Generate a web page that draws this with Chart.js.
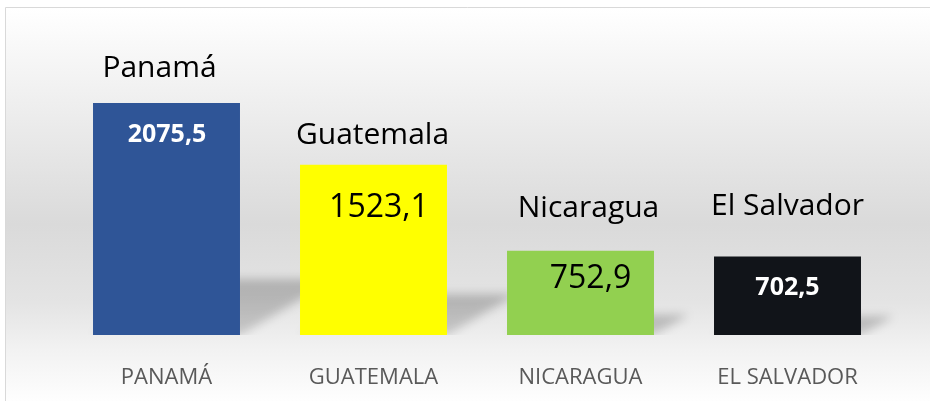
<!DOCTYPE html>
<html lang="es">
<head>
<meta charset="utf-8">
<title>Centroamérica</title>
<script src="https://cdn.jsdelivr.net/npm/chart.js@4/dist/chart.umd.min.js"></script>
<style>
	html, body { margin: 0; padding: 0; background: #fff; }
	#chart { display: block; }
</style>
</head>
<body>
<canvas id="chart" width="930" height="401"></canvas>
<script>
	'use strict';

	// Data
	var categories = ['PANAMÁ', 'GUATEMALA', 'NICARAGUA', 'EL SALVADOR'];
	var countryNames = ['Panamá', 'Guatemala', 'Nicaragua', 'El Salvador'];
	var values = [2075.5, 1523.1, 752.9, 702.5];
	var barColors = ['#2f5597', '#ffff00', '#92d050', '#111419'];

	var FONT = '"Open Sans", "Noto Sans", sans-serif';

	// Label placement per bar (relative to bar centre / bar top), as laid out by hand in the original
	var nameOffsets = [[-7, -26], [-1, -21], [8, -34], [0, -41]];
	var valueOffsets = [[0.5, 39], [5.5, 52], [10, 37], [0, 39]];
	var valueStyles = [
		{ color: '#ffffff', font: 'bold 25px ' + FONT },
		{ color: '#000000', font: '32px ' + FONT },
		{ color: '#000000', font: '32px ' + FONT },
		{ color: '#ffffff', font: 'bold 25px ' + FONT }
	];

	function fmt(v) {
		return String(v).replace('.', ',');
	}

	// Frame + soft vertical gradient behind the plot
	var backdrop = {
		id: 'backdrop',
		beforeDraw: function(chart) {
			var ctx = chart.ctx;
			var w = chart.width, h = chart.height;
			ctx.save();
			var g = ctx.createLinearGradient(0, 8, 0, h);
			g.addColorStop(0, '#ffffff');
			g.addColorStop(0.55, '#dadada');
			g.addColorStop(0.75, '#e4e4e4');
			g.addColorStop(0.87, '#f2f2f2');
			g.addColorStop(1, '#fefefe');
			ctx.fillStyle = g;
			ctx.fillRect(6, 8, w - 6, h - 8);
			ctx.strokeStyle = '#d9d9d9';
			ctx.lineWidth = 1;
			ctx.beginPath();
			ctx.moveTo(5.5, h);
			ctx.lineTo(5.5, 7.5);
			ctx.lineTo(w, 7.5);
			ctx.stroke();
			ctx.restore();
		}
	};

	// Perspective shadow cast up and to the right of each bar
	var barShadows = {
		id: 'barShadows',
		beforeDatasetsDraw: function(chart) {
			var ctx = chart.ctx;
			var meta = chart.getDatasetMeta(0);
			meta.data.forEach(function(bar) {
				var p = bar.getProps(['x', 'y', 'base', 'width'], true);
				var left = p.x - p.width / 2;
				var right = p.x + p.width / 2;
				var rise = (p.base - p.y) * 0.24;
				var shift = rise * 1.7;
				ctx.save();
				ctx.beginPath();
				ctx.rect(0, 0, chart.width, p.base);
				ctx.clip();
				ctx.filter = 'blur(5px)';
				var g = ctx.createLinearGradient(0, p.base - rise, 0, p.base);
				g.addColorStop(0, 'rgba(0,0,0,0.22)');
				g.addColorStop(1, 'rgba(0,0,0,0.16)');
				ctx.fillStyle = g;
				ctx.beginPath();
				ctx.moveTo(left, p.base);
				ctx.lineTo(right, p.base);
				ctx.lineTo(right + shift, p.base - rise);
				ctx.lineTo(left + shift, p.base - rise);
				ctx.closePath();
				ctx.fill();
				ctx.restore();
			});
		}
	};

	// Country name above each bar and value inside it
	var barLabels = {
		id: 'barLabels',
		afterDatasetsDraw: function(chart) {
			var ctx = chart.ctx;
			var meta = chart.getDatasetMeta(0);
			ctx.save();
			ctx.textAlign = 'center';
			ctx.textBaseline = 'alphabetic';
			meta.data.forEach(function(bar, i) {
				var p = bar.getProps(['x', 'y'], true);
				ctx.fillStyle = '#000000';
				ctx.font = '30px ' + FONT;
				ctx.fillText(countryNames[i], p.x + nameOffsets[i][0], p.y + nameOffsets[i][1]);
				ctx.fillStyle = valueStyles[i].color;
				ctx.font = valueStyles[i].font;
				ctx.fillText(fmt(values[i]), p.x + valueOffsets[i][0], p.y + valueOffsets[i][1]);
			});
			ctx.restore();
		}
	};

	new Chart(document.getElementById('chart'), {
		type: 'bar',
		data: {
			labels: categories,
			datasets: [{
				data: values,
				backgroundColor: barColors,
				borderWidth: 0,
				categoryPercentage: 1,
				barPercentage: 0.71
			}]
		},
		options: {
			responsive: false,
			animation: false,
			layout: {
				padding: { top: 22, left: 63, right: 39, bottom: 11 }
			},
			plugins: {
				legend: { display: false },
				tooltip: { enabled: false }
			},
			scales: {
				y: {
					display: false,
					min: 0,
					max: 2800
				},
				x: {
					grid: { display: false, drawTicks: false },
					border: { display: false },
					afterFit: function(scale) {
						scale.height = 55;
					},
					ticks: {
						color: '#595959',
						padding: 30,
						maxRotation: 0,
						font: { family: FONT, size: 22 }
					}
				}
			}
		},
		plugins: [backdrop, barShadows, barLabels]
	});
</script>
</body>
</html>
